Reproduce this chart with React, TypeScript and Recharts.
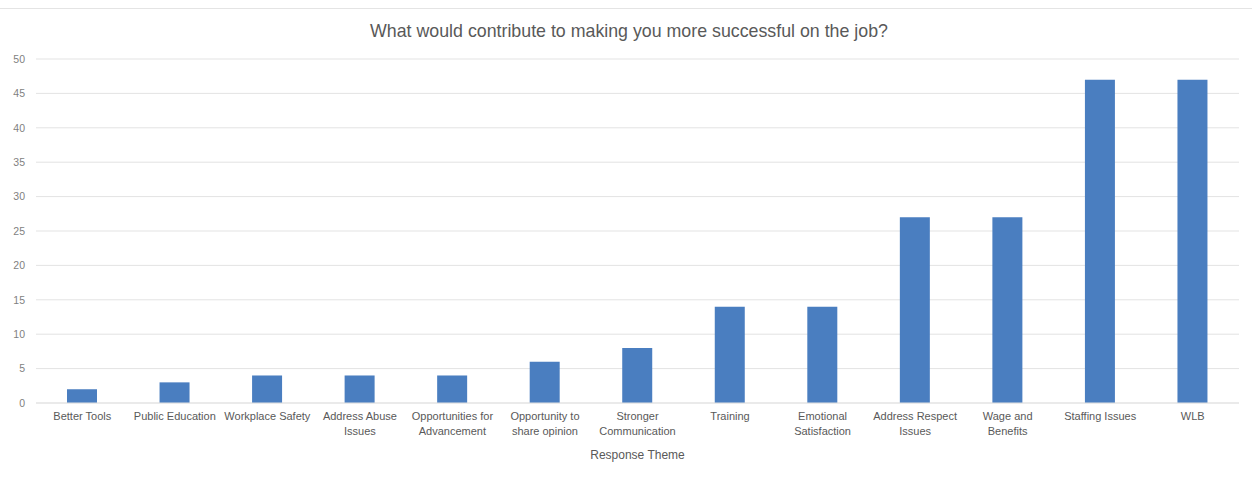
import { BarChart, Bar, XAxis, YAxis, CartesianGrid } from 'recharts'

const THEMES = [
  'Better Tools',
  'Public Education',
  'Workplace Safety',
  'Address Abuse Issues',
  'Opportunities for Advancement',
  'Opportunity to share opinion',
  'Stronger Communication',
  'Training',
  'Emotional Satisfaction',
  'Address Respect Issues',
  'Wage and Benefits',
  'Staffing Issues',
  'WLB',
]
const COUNTS = [2, 3, 4, 4, 4, 6, 8, 14, 14, 27, 27, 47, 47]
const Y_TICKS = [0, 5, 10, 15, 20, 25, 30, 35, 40, 45, 50]

const FONT = '"Liberation Sans", Arial, sans-serif'
const GREY = '#595959'
const TICK_FONT = `11px ${FONT}`

const chartData = THEMES.map((theme, i) => ({ theme, count: COUNTS[i] }))

let ctx: CanvasRenderingContext2D | null = null
function measure(s: string) {
  if (!ctx) ctx = document.createElement('canvas').getContext('2d')
  if (!ctx) return s.length * 5.5
  ctx.font = TICK_FONT
  return ctx.measureText(s).width
}

// greedy word wrap to fit the category band
function wrap(label: string, maxWidth: number) {
  const lines: string[] = []
  let cur = ''
  for (const w of label.split(' ')) {
    const next = cur ? cur + ' ' + w : w
    if (cur && measure(next) > maxWidth) {
      lines.push(cur)
      cur = w
    } else {
      cur = next
    }
  }
  if (cur) lines.push(cur)
  return lines
}

function ThemeTick({ x, y, payload }: any) {
  const lines = wrap(String(payload.value), 89)
  return (
    <text x={x} y={y} textAnchor="middle" fill={GREY} style={{ font: TICK_FONT }}>
      {lines.map((line, i) => (
        <tspan key={i} x={x} dy={i === 0 ? 8 : 15}>
          {line}
        </tspan>
      ))}
    </text>
  )
}

export default function App() {
  return (
    <div style={{ position: 'absolute', left: 0, top: 0, width: 1252, height: 481, background: '#fff' }}>
      <div style={{ position: 'absolute', left: 0, top: 8, width: 1252, borderTop: '1px solid #e4e4e4' }} />
      <div
        style={{
          position: 'absolute',
          left: 0,
          top: 21,
          width: 1258,
          textAlign: 'center',
          fontFamily: FONT,
          fontSize: 17.8,
          color: GREY,
        }}
      >
        What would contribute to making you more successful on the job?
      </div>
      <BarChart
        width={1252}
        height={481}
        data={chartData}
        margin={{ top: 59, right: 13, bottom: 0, left: 0 }}
        barCategoryGap="10%"
      >
        <CartesianGrid vertical={false} stroke="#e3e3e3" />
        <YAxis
          width={36}
          domain={[0, 50]}
          ticks={Y_TICKS}
          interval={0}
          axisLine={false}
          tickLine={false}
          tickSize={0}
          tickMargin={11}
          tick={{ fontSize: 10.5, fill: '#7f7f7f', fontFamily: FONT }}
        />
        <XAxis
          dataKey="theme"
          height={78}
          interval={0}
          axisLine={{ stroke: '#e3e3e3' }}
          tickLine={false}
          tickSize={0}
          tickMargin={9}
          tick={<ThemeTick />}
          label={{
            value: 'Response Theme',
            position: 'insideBottom',
            offset: 22,
            fontSize: 12,
            fill: GREY,
            fontFamily: FONT,
          }}
        />
        <Bar dataKey="count" fill="#4a7ec0" barSize={30} isAnimationActive={false} />
      </BarChart>
    </div>
  )
}
